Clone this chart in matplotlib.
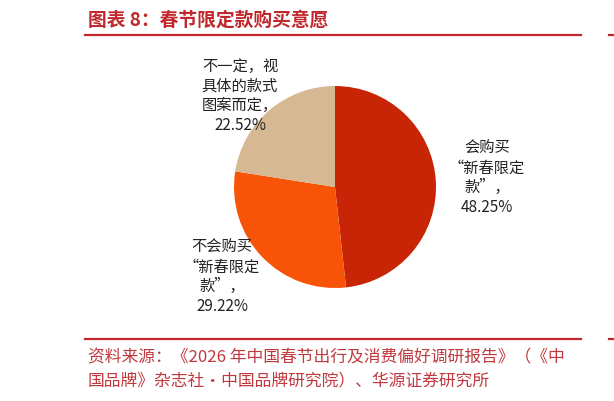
import matplotlib
matplotlib.use("Agg")
import matplotlib.pyplot as plt
from matplotlib.lines import Line2D

plt.rcParams["font.family"] = ["Noto Sans CJK SC", "DejaVu Sans"]

# data
labels = ["会购买\n“新春限定\n款”，\n48.25%",
          "不会购买\n“新春限定\n款”，\n29.22%",
          "不一定，视\n具体的款式\n图案而定，\n22.52%"]
shares = [48.25, 29.22, 22.52]
colors = ["#C82506", "#F75408", "#D6B893"]

title = "图表 8：春节限定款购买意愿"
source = ("资料来源：《2026 年中国春节出行及消费偏好调研报告》（《中\n"
          "国品牌》杂志社·中国品牌研究院）、华源证券研究所")

W, H = 614, 401
cx, cy, r = 335, 187, 101
red_txt = "#C0282D"

fig = plt.figure(figsize=(W / 100, H / 100), dpi=100)
ax = fig.add_axes([0, 0, 1, 1])

wedges, _ = ax.pie(shares, colors=colors, startangle=90, counterclock=False,
                   radius=1, center=(0, 0), wedgeprops=dict(linewidth=0))

ax.set_xlim(-cx / r, (W - cx) / r)
ax.set_ylim(-(H - cy) / r, cy / r)
ax.set_aspect("equal", adjustable="box")
ax.axis("off")

# label positions in pixels of the picture
label_pos = [(487, 178), (222, 277), (240, 96)]
for lab, (px, py) in zip(labels, label_pos):
    ax.text((px - cx) / r, (cy - py) / r, lab, ha="center", va="center",
            fontsize=11, color="#222222", linespacing=1.2)

# title, rules and source
fig.text(88 / W, 1 - 20 / H, title, fontsize=13.5, fontweight="bold",
         color=red_txt, va="center", ha="left")
for y in (35, 339):
    for x0, x1 in [(85, 581), (609, 614)]:
        fig.add_artist(Line2D([x0 / W, x1 / W], [1 - y / H, 1 - y / H],
                              color=red_txt, linewidth=1.6))
fig.text(88 / W, 1 - 369 / H, source, fontsize=12.1, color="#C0393E",
         va="center", ha="left", linespacing=1.45)

fig.savefig("out.png", dpi=100)
